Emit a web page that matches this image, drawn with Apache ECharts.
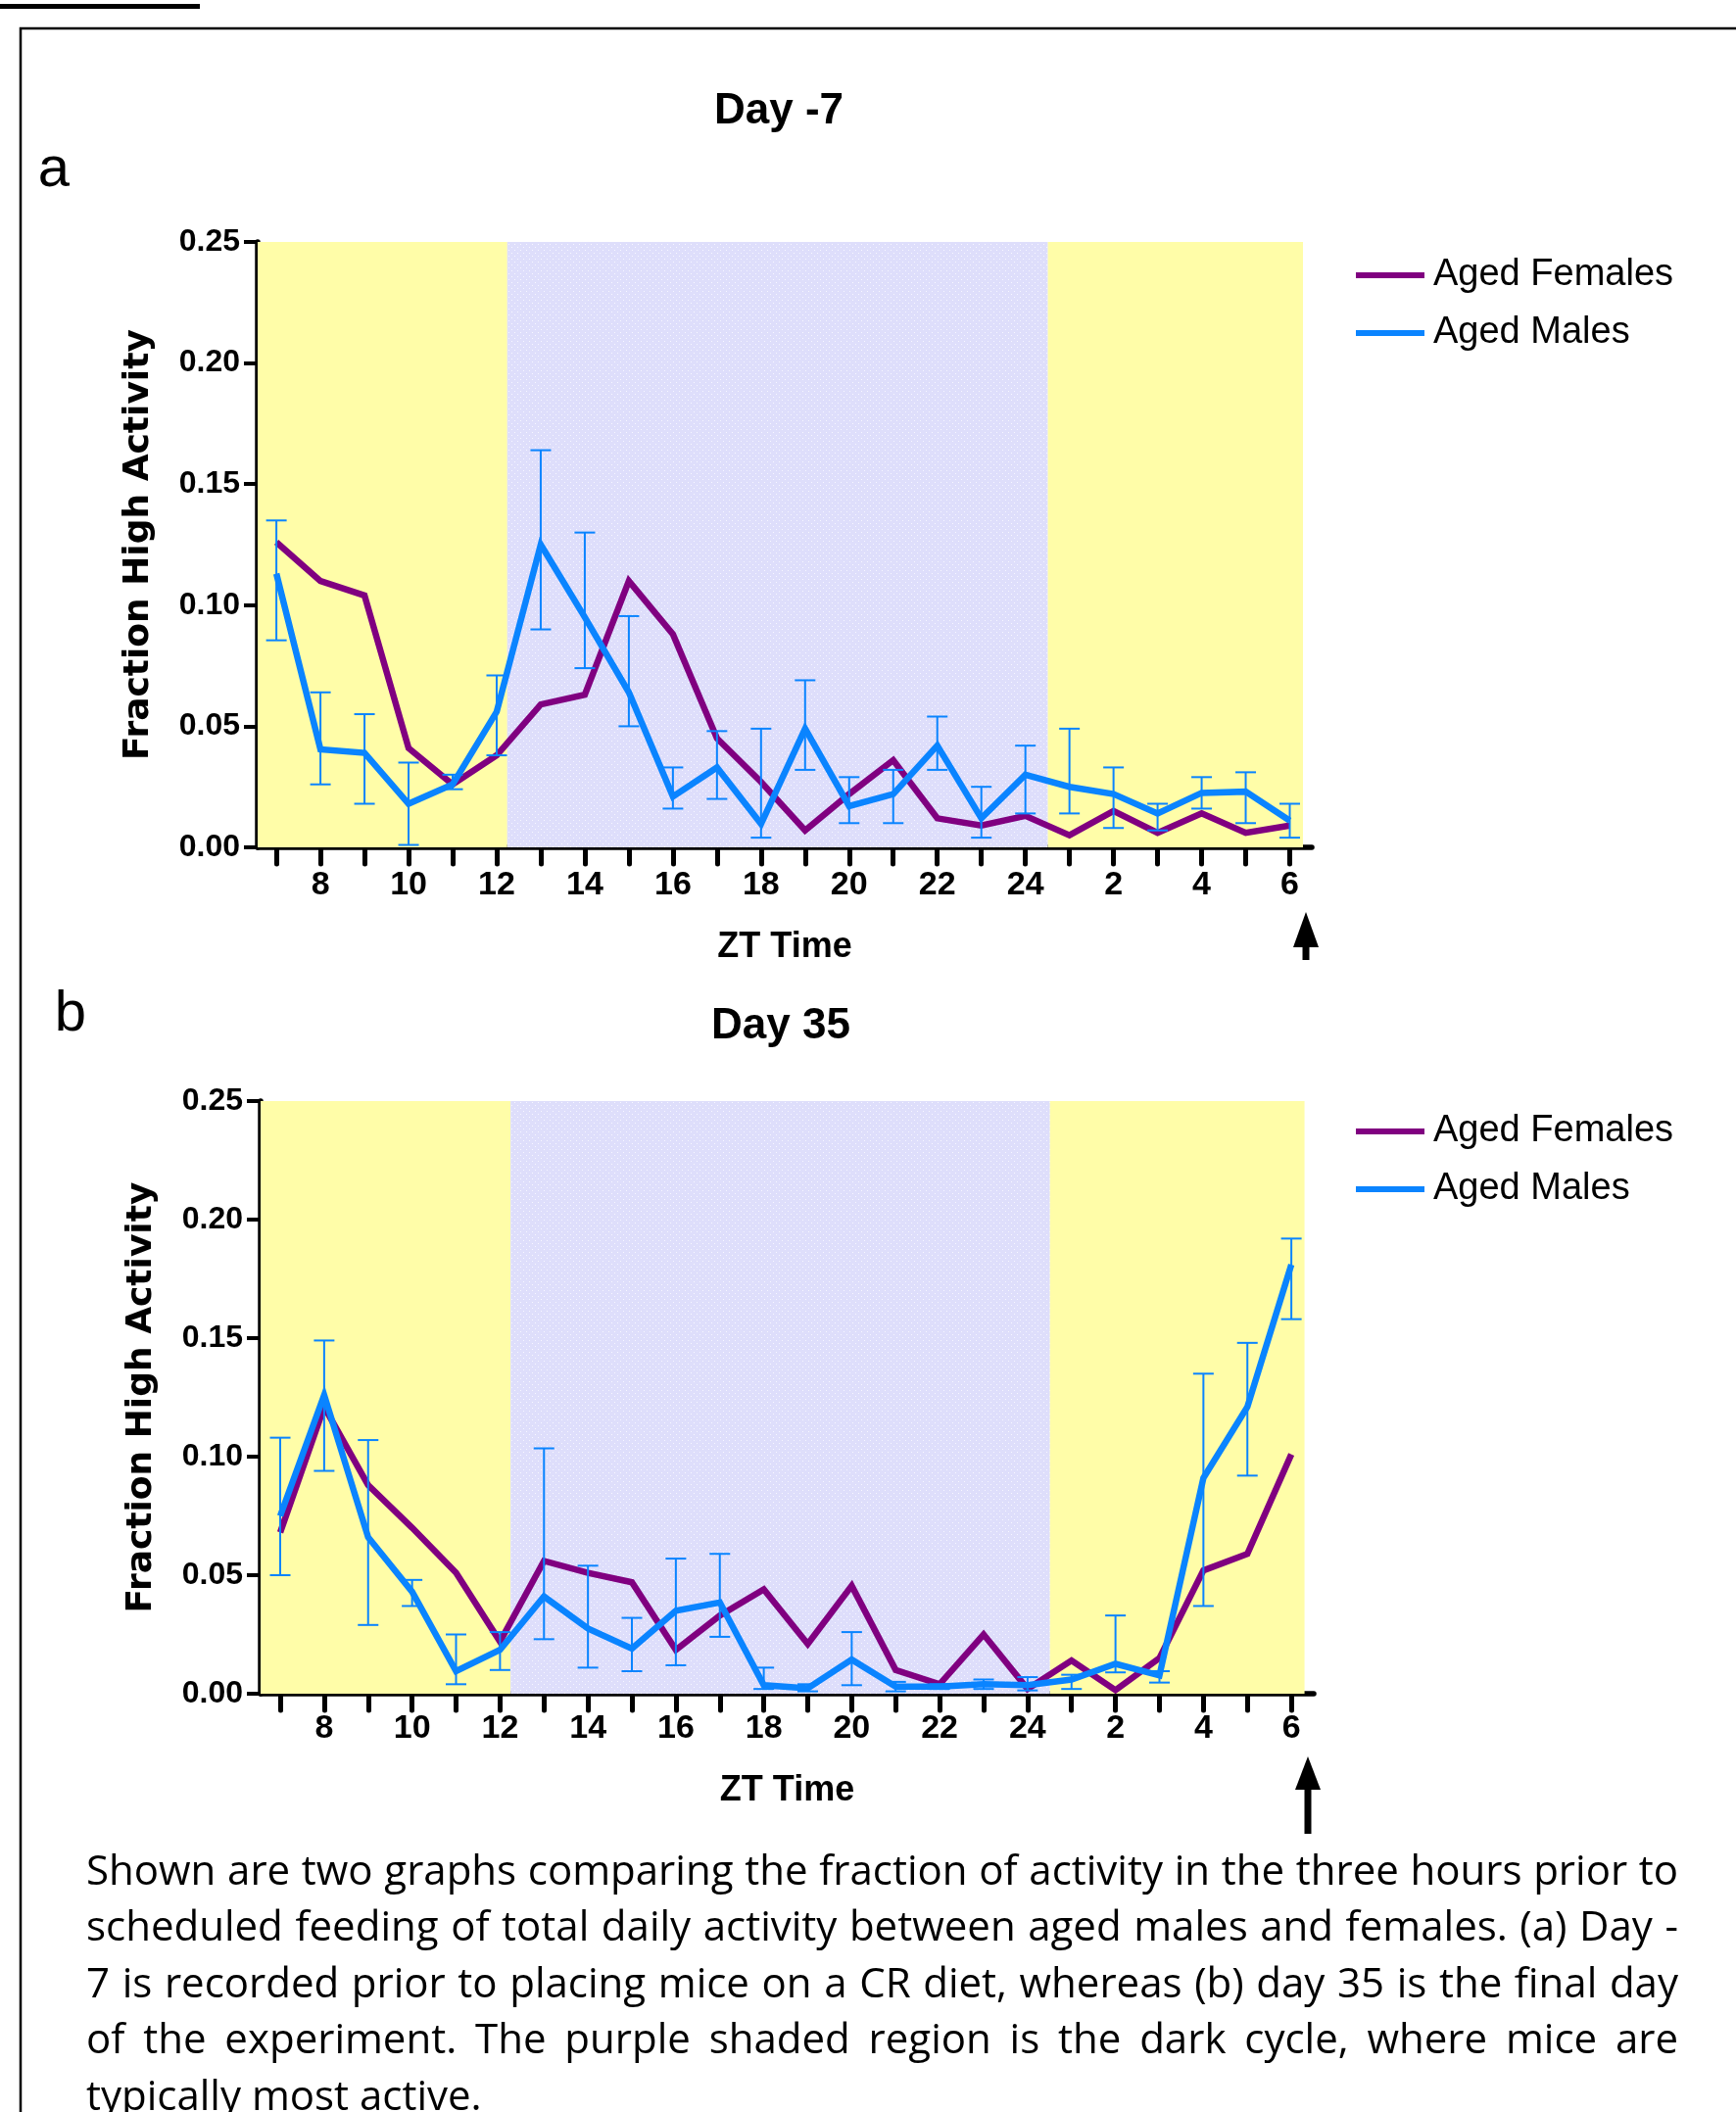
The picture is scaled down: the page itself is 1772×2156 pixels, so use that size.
<!DOCTYPE html>
<html>
<head>
<meta charset="utf-8">
<script src="https://cdn.jsdelivr.net/npm/echarts@6/dist/echarts.min.js"></script>
<style>
html,body{margin:0;padding:0;background:#fff;}
#c{width:1772px;height:2156px;}
</style>
</head>
<body>
<div id="c"></div>
<script>
// ---------------- DATA ----------------
// ZT hours along the x axis (7 ... 24, 1 ... 6)
const hours = [7,8,9,10,11,12,13,14,15,16,17,18,19,20,21,22,23,24,1,2,3,4,5,6];
// y axis tick values
const yTicks = [0, 0.05, 0.10, 0.15, 0.20, 0.25];
const seriesNames = ['Aged Females', 'Aged Males'];
const panelTitles = ['Day -7', 'Day 35'];
const panelLetters = ['a', 'b'];

// Day -7
const femalesDayM7 = [0.126,0.110,0.104,0.041,0.026,0.038,0.059,0.063,0.110,0.088,0.045,0.027,0.007,0.022,0.036,0.012,0.009,0.013,0.005,0.015,0.006,0.014,0.006,0.009];
const malesDayM7   = [0.113,0.0405,0.039,0.018,0.026,0.056,0.125,0.095,0.064,0.021,0.033,0.0097,0.049,0.017,0.022,0.042,0.012,0.030,0.025,0.022,0.014,0.0225,0.023,0.011];
const malesDayM7Hi = [0.135,0.064,0.055,0.035,0.030,0.071,0.164,0.130,0.0955,0.033,0.048,0.049,0.069,0.029,0.032,0.054,0.025,0.042,0.049,0.033,0.018,0.029,0.031,0.018];
const malesDayM7Lo = [0.0855,0.026,0.018,0.001,0.024,0.038,0.090,0.074,0.050,0.016,0.020,0.004,0.032,0.010,0.010,0.032,0.004,0.014,0.014,0.008,0.007,0.016,0.010,0.004];

// Day 35
const femalesDay35 = [0.068,0.121,0.088,0.070,0.051,0.022,0.056,0.051,0.047,0.0185,0.033,0.044,0.021,0.0455,0.010,0.004,0.025,0.002,0.014,0.0015,0.015,0.052,0.059,0.101];
const malesDay35   = [0.075,0.126,0.066,0.043,0.0095,0.0185,0.041,0.0275,0.019,0.035,0.0385,0.0036,0.0023,0.0144,0.003,0.003,0.004,0.0036,0.006,0.0126,0.0077,0.091,0.121,0.181];
const malesDay35Hi = [0.108,0.149,0.107,0.048,0.025,0.026,0.1035,0.054,0.032,0.057,0.059,0.011,0.004,0.026,0.005,0.004,0.006,0.007,0.008,0.033,0.0095,0.135,0.148,0.192];
const malesDay35Lo = [0.050,0.094,0.029,0.037,0.004,0.010,0.023,0.011,0.0095,0.012,0.024,0.002,0.001,0.0036,0.001,0.002,0.002,0.0014,0.002,0.009,0.0047,0.037,0.092,0.158];

// light / dark phases, in x-index units: [start, end, phase]
const phaseBands = [[-1, 5.24, 'light'], [5.24, 17.51, 'dark'], [17.51, 23.30, 'light']];

const captionLines = [
  'Shown are two graphs comparing the fraction of activity in the three hours prior to',
  'scheduled feeding of total daily activity between aged males and females. (a) Day -',
  '7 is recorded prior to placing mice on a CR diet, whereas (b) day 35 is the final day',
  'of the experiment. The purple shaded region is the dark cycle, where mice are',
  'typically most active.'
];

// ---------------- STYLE ----------------
const BLUE = '#0a84ff', PURPLE = '#800080', YELLOW = '#fffda8';
const ARIAL = "'Liberation Sans', Arial, sans-serif";
const CAPFONT = "'Open Sans', 'Noto Sans', sans-serif";

function makePattern() {
  const c = document.createElement('canvas');
  c.width = 6; c.height = 6;
  const g = c.getContext('2d');
  g.fillStyle = '#dedefb'; g.fillRect(0, 0, 6, 6);
  g.fillStyle = '#f7f7ff'; g.fillRect(0, 0, 1, 1); g.fillRect(3, 3, 1, 1);
  return c;
}
const darkFill = { image: makePattern(), repeat: 'repeat' };

const tickIdx = hours.map((h, i) => i);
const labelIdx = hours.map((h, i) => i).filter(i => hours[i] % 2 === 0);

const panels = [
  { grid: { left: 263, top: 247, width: 1076, height: 618 }, xmin: -0.425, xmax: 23.5, nameGap: 84, labelMargin: 22,
    fem: femalesDayM7, mal: malesDayM7, hi: malesDayM7Hi, lo: malesDayM7Lo },
  { grid: { left: 266, top: 1124, width: 1075, height: 605 }, xmin: -0.446, xmax: 23.51, nameGap: 81, labelMargin: 19,
    fem: femalesDay35, mal: malesDay35, hi: malesDay35Hi, lo: malesDay35Lo }
];

const grids = [], xAxes = [], yAxes = [], series = [];
panels.forEach((p, gi) => {
  grids.push(Object.assign({ containLabel: false }, p.grid));
  xAxes.push({
    gridIndex: gi, type: 'value', min: p.xmin, max: p.xmax,
    name: 'ZT Time', nameLocation: 'middle', nameGap: p.nameGap,
    nameTextStyle: { fontFamily: ARIAL, fontWeight: 'bold', fontSize: 36, color: '#000' },
    axisLine: { show: true, onZero: false, lineStyle: { color: '#000', width: 5.5 } },
    axisTick: { show: true, inside: false, length: 17, customValues: tickIdx, lineStyle: { color: '#000', width: 5, cap: 'round' } },
    axisLabel: { show: true, customValues: labelIdx, margin: p.labelMargin,
      formatter: v => String(hours[Math.round(v)]),
      fontFamily: ARIAL, fontWeight: 'bold', fontSize: 34, color: '#000' },
    splitLine: { show: false }
  });
  yAxes.push({
    gridIndex: gi, type: 'value', min: yTicks[0], max: yTicks[yTicks.length - 1],
    name: 'Fraction High Activity', nameLocation: 'middle', nameRotate: 90, nameGap: 103,
    nameTextStyle: { fontFamily: "'DejaVu Sans', sans-serif", fontWeight: 'bold', fontSize: 36, color: '#000' },
    axisLine: { show: true, onZero: false, lineStyle: { color: '#000', width: 5.5 } },
    axisTick: { show: true, inside: false, length: 14, customValues: yTicks, lineStyle: { color: '#000', width: 4 } },
    axisLabel: { show: true, customValues: yTicks, margin: 18, formatter: v => v.toFixed(2),
      fontFamily: ARIAL, fontWeight: 'bold', fontSize: 32, color: '#000' },
    splitLine: { show: false }
  });
  // light/dark shading
  series.push({
    type: 'custom', name: 'phase' + gi, xAxisIndex: gi, yAxisIndex: gi, z: 1, silent: true, clip: true,
    data: phaseBands.map(b => [b[0], b[1], b[2] === 'dark' ? 1 : 0]),
    renderItem(params, api) {
      const top = yTicks[yTicks.length - 1];
      const p0 = api.coord([api.value(0), top]);
      const p1 = api.coord([api.value(1), 0]);
      return { type: 'rect', shape: { x: p0[0], y: p0[1] - 3, width: p1[0] - p0[0], height: p1[1] - p0[1] + 3 },
        style: { fill: api.value(2) ? darkFill : YELLOW } };
    }
  });
  series.push({
    type: 'line', name: seriesNames[0], xAxisIndex: gi, yAxisIndex: gi, z: 3, silent: true,
    data: p.fem.map((v, i) => [i, v]), symbol: 'none',
    lineStyle: { color: PURPLE, width: 6.5, join: 'miter' }, itemStyle: { color: PURPLE }
  });
  series.push({
    type: 'custom', name: 'SEM' + gi, xAxisIndex: gi, yAxisIndex: gi, z: 4, silent: true, clip: false,
    data: p.lo.map((l, i) => [i, l, p.hi[i]]),
    renderItem(params, api) {
      const x = api.value(0);
      const a = api.coord([x, api.value(2)]);
      const b = api.coord([x, api.value(1)]);
      const w = 10.5;
      const st = { stroke: BLUE, lineWidth: 2 };
      return { type: 'group', children: [
        { type: 'line', shape: { x1: a[0], y1: a[1], x2: b[0], y2: b[1] }, style: st },
        { type: 'line', shape: { x1: a[0] - w, y1: a[1], x2: a[0] + w, y2: a[1] }, style: st },
        { type: 'line', shape: { x1: b[0] - w, y1: b[1], x2: b[0] + w, y2: b[1] }, style: st }
      ] };
    }
  });
  series.push({
    type: 'line', name: seriesNames[1], xAxisIndex: gi, yAxisIndex: gi, z: 5, silent: true,
    data: p.mal.map((v, i) => [i, v]), symbol: 'none',
    lineStyle: { color: BLUE, width: 6.5, join: 'miter' }, itemStyle: { color: BLUE }
  });
});

const legendBase = {
  orient: 'vertical', left: 1379, icon: 'rect', itemWidth: 70, itemHeight: 6, itemGap: 15,
  selectedMode: false, data: seriesNames,
  textStyle: { fontFamily: ARIAL, fontSize: 38, lineHeight: 44, color: '#000', padding: [0, 0, 0, 4] }
};

// ---------------- GRAPHICS (frame, labels, arrows, caption) ----------------
const graphics = [
  { type: 'rect', shape: { x: 0, y: 4, width: 204, height: 5 }, style: { fill: '#000' } },
  { type: 'polyline', shape: { points: [[1772, 29], [21, 29], [21, 2160]] }, style: { stroke: '#000', lineWidth: 2.5, fill: null } },
  { type: 'text', x: 55, y: 174, style: { text: panelLetters[0], fontFamily: ARIAL, fontSize: 58, fill: '#000', align: 'center', verticalAlign: 'middle' } },
  { type: 'text', x: 72, y: 1036, style: { text: panelLetters[1], fontFamily: ARIAL, fontSize: 58, fill: '#000', align: 'center', verticalAlign: 'middle' } },
  { type: 'text', x: 795, y: 114, style: { text: panelTitles[0], fontFamily: ARIAL, fontWeight: 'bold', fontSize: 44, fill: '#000', align: 'center', verticalAlign: 'middle' } },
  { type: 'text', x: 797, y: 1048, style: { text: panelTitles[1], fontFamily: ARIAL, fontWeight: 'bold', fontSize: 44, fill: '#000', align: 'center', verticalAlign: 'middle' } },
  // arrows marking scheduled feeding
  { type: 'polygon', shape: { points: [[1333, 931], [1320, 967], [1346, 967]] }, style: { fill: '#000' } },
  { type: 'rect', shape: { x: 1329.5, y: 965, width: 7, height: 15 }, style: { fill: '#000' } },
  { type: 'polygon', shape: { points: [[1335, 1793], [1322, 1827], [1348, 1827]] }, style: { fill: '#000' } },
  { type: 'rect', shape: { x: 1331.5, y: 1825, width: 7, height: 47 }, style: { fill: '#000' } }
];

// caption, justified between x0 and x1
(function () {
  const x0 = 88, x1 = 1713, W = x1 - x0;
  const baselines = [1927, 1984, 2042, 2099, 2157];
  const ctx = document.createElement('canvas').getContext('2d');
  let fs = 42;
  const measure = (t, f) => { ctx.font = f + 'px ' + CAPFONT; return ctx.measureText(t).width; };
  for (; fs > 28; fs -= 0.5) {
    let ok = true;
    for (let li = 0; li < captionLines.length - 1; li++) {
      const words = captionLines[li].split(' ');
      const tot = words.reduce((s, w) => s + measure(w, fs), 0);
      if ((W - tot) / (words.length - 1) < fs * 0.22) { ok = false; break; }
    }
    if (ok) break;
  }
  captionLines.forEach((line, li) => {
    const words = line.split(' ');
    const widths = words.map(w => measure(w, fs));
    const tot = widths.reduce((s, v) => s + v, 0);
    const last = li === captionLines.length - 1;
    const gap = last ? measure(' ', fs) : (W - tot) / (words.length - 1);
    let x = x0;
    words.forEach((w, wi) => {
      graphics.push({ type: 'text', x: x, y: baselines[li] - fs * 0.36,
        style: { text: w, fontFamily: CAPFONT, fontSize: fs, fill: '#000', align: 'left', verticalAlign: 'middle' } });
      x += widths[wi] + gap;
    });
  });
})();

const chart = echarts.init(document.getElementById('c'), null, { renderer: 'canvas', width: 1772, height: 2156 });
chart.setOption({
  animation: false,
  backgroundColor: '#fff',
  grid: grids,
  xAxis: xAxes,
  yAxis: yAxes,
  legend: [
    Object.assign({}, legendBase, { top: 254 }),
    Object.assign({}, legendBase, { top: 1128 })
  ],
  series: series,
  graphic: graphics
});
</script>
</body>
</html>
